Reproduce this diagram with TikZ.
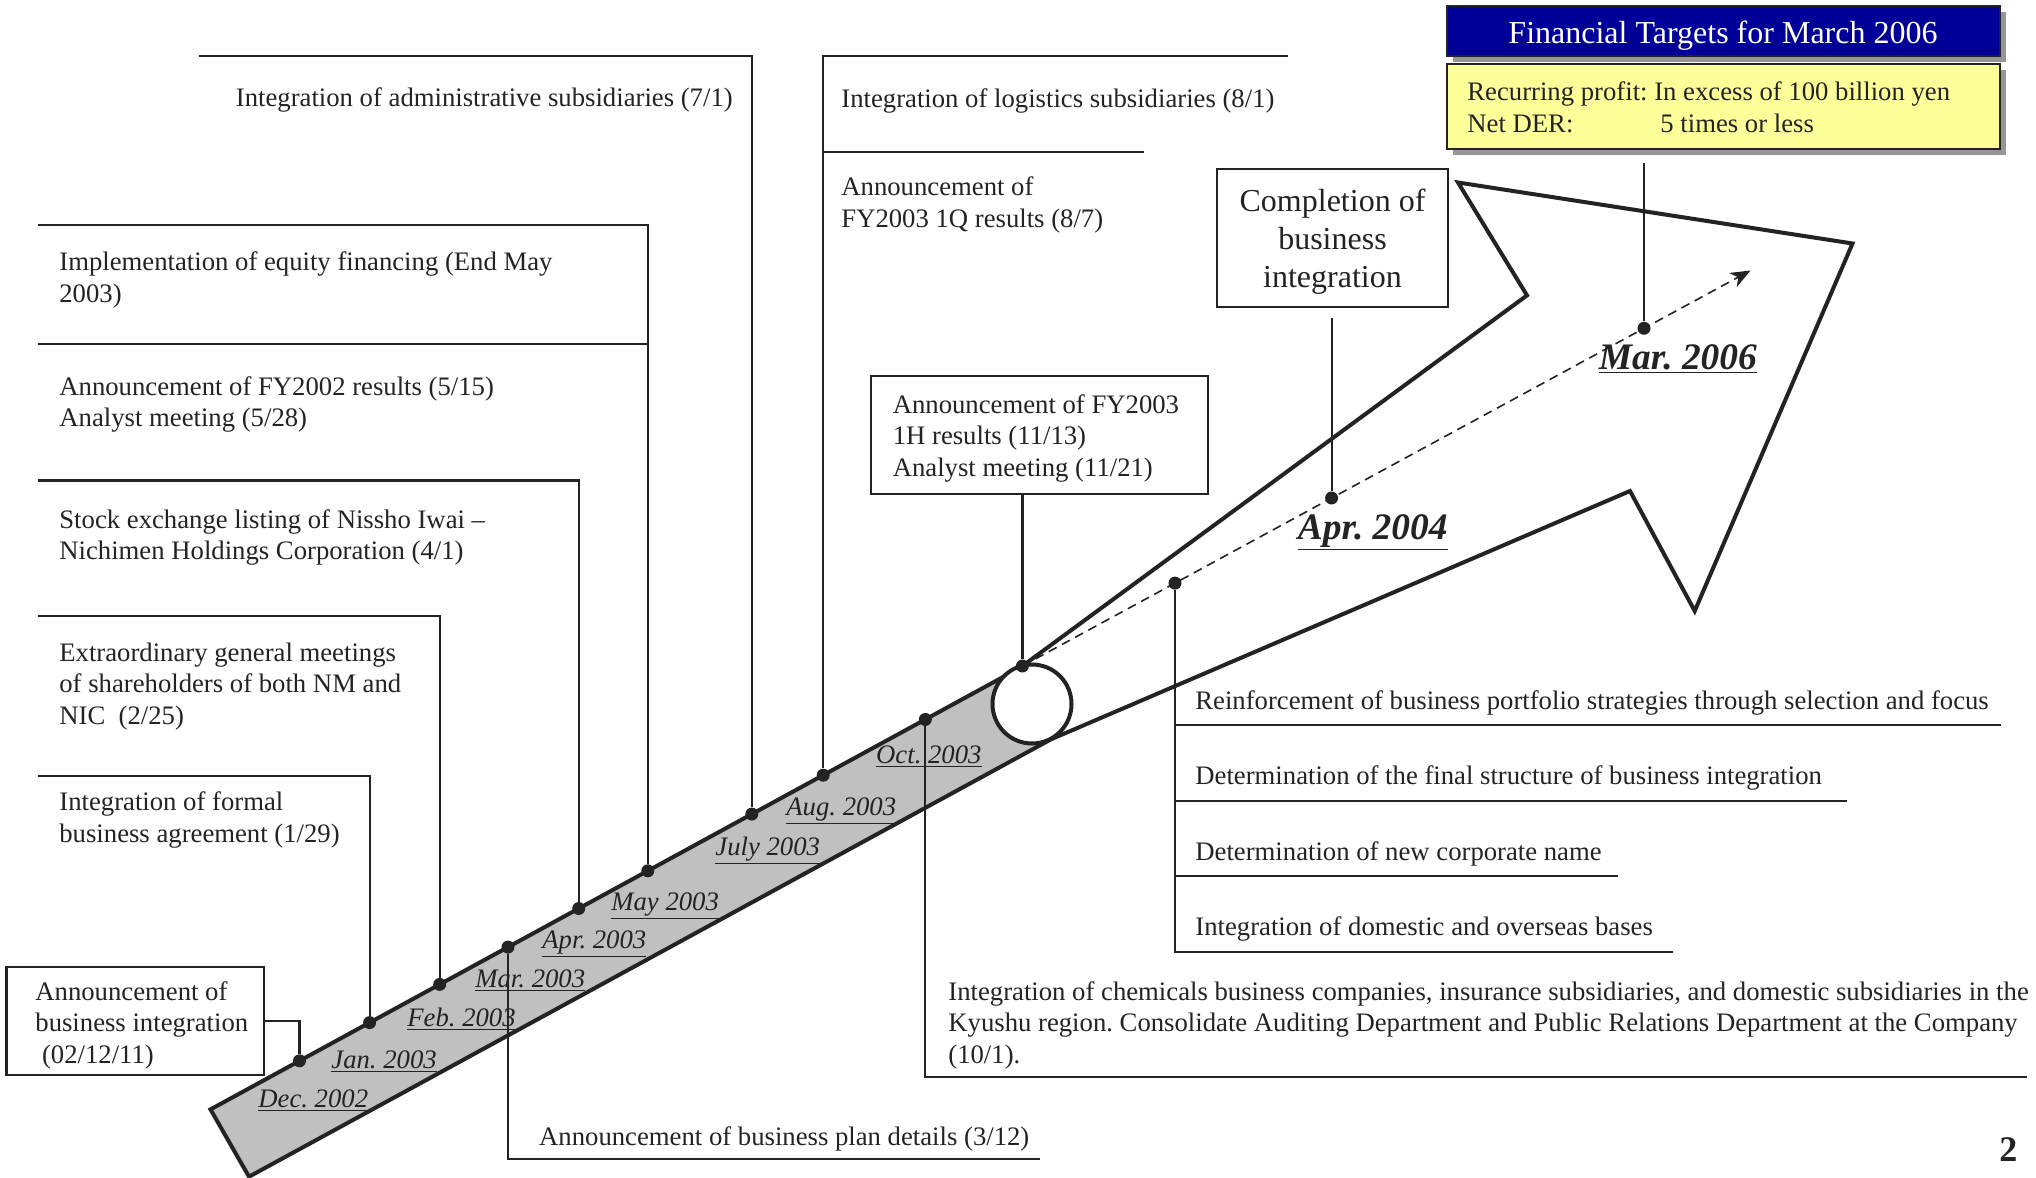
\documentclass[tikz,border=0pt]{standalone}
\usepackage{fontspec}
\setmainfont{Liberation Serif}
\usetikzlibrary{arrows.meta,calc,shadows}
\definecolor{ink}{RGB}{35,35,35}
\definecolor{bandgray}{RGB}{192,192,192}
\definecolor{navy}{RGB}{0,0,153}
\definecolor{lightyellow}{RGB}{255,255,153}
\definecolor{shadowgray}{RGB}{150,150,150}
\frenchspacing
\newcommand\LL[1]{\vtop{\baselineskip=15.8pt\lineskiplimit=-100pt\halign{##\hfil\cr#1\crcr}}}
\newcommand\CL[1]{\vtop{\baselineskip=18.9pt\lineskiplimit=-100pt\halign{\hfil##\hfil\cr#1\crcr}}}
\begin{document}
\begin{tikzpicture}[x=0.5pt,y=-0.5pt,
  txt/.style={anchor=base west, inner sep=0pt, text=ink, font=\fontsize{13.35pt}{15.8pt}\selectfont},
  datelbl/.style={anchor=base west, inner sep=0pt, text=ink, font=\fontsize{13.35pt}{15.8pt}\selectfont\itshape},
  bigdate/.style={anchor=base west, inner sep=0pt, text=ink, font=\fontsize{18.7pt}{22pt}\selectfont\bfseries\itshape},
  frame/.style={draw=ink, line width=1.1pt},
  edge/.style={draw=ink, line width=2pt, line join=miter},
  dotst/.style={circle, fill=ink, inner sep=0pt, minimum size=6.5pt},
  boxst/.style={draw=ink, line width=1.1pt, fill=white, inner sep=0pt},
  shadowbox/.style={draw=ink, line width=1.1pt, inner sep=0pt,
     drop shadow={shadow xshift=3pt, shadow yshift=-3pt, fill=shadowgray, opacity=1}}
]
\useasboundingbox (0,0) rectangle (2036,1178);

% ---------- band ----------
\coordinate (bTL) at (210.5,1109.4);
\coordinate (bBL) at (249,1176.7);
\coordinate (bTR) at (1013,671.6);
\coordinate (bBR) at (1051,739.3);
\fill[bandgray] (bTL) -- (bTR) -- (bBR) -- (bBL) -- cycle;
\draw[edge] (bTR) -- (bTL) -- (bBL) -- (bBR);
\draw[edge, fill=white] (1032,704) circle [radius=19.75pt];

% ---------- big arrow ----------
\coordinate (aN1) at (1527,295.4);
\coordinate (aT1) at (1458,182.5);
\coordinate (aTip) at (1852.5,243.5);
\coordinate (aT2) at (1694.7,611);
\coordinate (aN2) at (1630,491);

% ---------- dots ----------
\node[dotst] (dDec) at (299.5,1060.8) {};
\node[dotst] (dJan) at (369.6,1022.6) {};
\node[dotst] (dFeb) at (439.7,984.4) {};
\node[dotst] (dMar) at (508,947.1) {};
\node[dotst] (dApr) at (578.7,908.5) {};
\node[dotst] (dMay) at (647.8,870.8) {};
\node[dotst] (dJul) at (751.8,814.1) {};
\node[dotst] (dAug) at (823.2,775.2) {};
\node[dotst] (dOct) at (925.3,719.5) {};
\node[dotst] (dTop) at (1022.4,666) {};
\node[dotst] (dSel) at (1175,583.1) {};
\node[dotst] (dApr04) at (1331.6,498) {};
\node[dotst] (dMar06) at (1644,328.3) {};
\coordinate (dashEnd) at (1750.5,270.5);

\draw[edge] (dTop.center) -- (aN1) -- (aT1) -- (aTip) -- (aT2) -- (aN2) -- (bBR);
\draw[ink, line width=0.8pt, dash pattern=on 4.5pt off 3pt, -{Stealth[length=10pt,width=8pt,inset=3pt]}] (dTop.center) -- (dashEnd);

% ---------- boxes ----------
\node[boxst, minimum width=128.55pt, minimum height=54pt] (decbox) at (135.05,1021) {};
\node[boxst, minimum width=168.5pt, minimum height=58.95pt] (novbox) at (1039.5,435.25) {};
\node[boxst, minimum width=115.5pt, minimum height=68.85pt] (compbox) at (1332.5,238.15) {};
\node[shadowbox, fill=navy, minimum width=276.45pt, minimum height=24.85pt] (titlebox) at (1723.15,30.85) {};
\node[shadowbox, fill=lightyellow, minimum width=276.45pt, minimum height=42.5pt] (ybox) at (1723.15,106.5) {};

% ---------- frame coordinates ----------
\coordinate (fJul) at (199,56);
\coordinate (fAugA) at (1287.5,55.8);
\coordinate (fAugB) at (1143.8,151.8);
\coordinate (fMayA) at (38,224.6);
\coordinate (fMayB) at (38,343.75);
\coordinate (fApr) at (38,480.4);
\coordinate (fFeb) at (38,616);
\coordinate (fJan) at (38,775.9);
\coordinate (fMar) at (1040.3,1159);
\coordinate (fOct) at (2027,1076.6);
\coordinate (fR1) at (2001,725.3);
\coordinate (fR2) at (1847,800.9);
\coordinate (fR3) at (1617.8,875.7);
\coordinate (fR4) at (1672.6,952);

% ---------- connectors ----------
\draw[frame] (fJul) -| (dJul);
\draw[frame] (fAugA) -| (dAug);
\draw[frame] (fAugB) -- (fAugB -| dAug);
\draw[frame] (fMayA) -| (dMay);
\draw[frame] (fMayB) -- (fMayB -| dMay);
\draw[frame] (fApr) -| (dApr);
\draw[frame] (fFeb) -| (dFeb);
\draw[frame] (fJan) -| (dJan);
\draw[frame] (decbox.east) -| (dDec);
\draw[frame] (dMar) |- (fMar);
\draw[frame] (dOct) |- (fOct);
\draw[frame] (dTop) -- (dTop |- novbox.south);
\draw[frame] (dSel) |- (fR4);
\draw[frame] (dSel |- fR1) -- (fR1);
\draw[frame] (dSel |- fR2) -- (fR2);
\draw[frame] (dSel |- fR3) -- (fR3);
\draw[frame] (dApr04) -- ($(dApr04 |- compbox.south)+(0,10)$);
\draw[frame] (dMar06) -- ($(dMar06 |- ybox.south)+(0,13)$);

% ---------- texts ----------
\node[txt] (t71) at (235.5,106.7) {Integration of administrative subsidiaries (7/1)};
\node[txt] (t81) at (841,107) {Integration of logistics subsidiaries (8/1)};
\node[txt] (t87) at (841,195.5) {\LL{Announcement of\cr FY2003 1Q results (8/7)}};
\node[txt] (tEq) at (59,270.5) {\LL{Implementation of equity financing (End May\cr 2003)}};
\node[txt] (tFY) at (59,395) {\LL{Announcement of FY2002 results (5/15)\cr Analyst meeting (5/28)}};
\node[txt] (tList) at (59,528) {\LL{Stock exchange listing of Nissho Iwai –\cr Nichimen Holdings Corporation (4/1)}};
\node[txt] (tEGM) at (59,661) {\LL{Extraordinary general meetings\cr of shareholders of both NM and\cr NIC\ \ (2/25)}};
\node[txt] (tForm) at (59,810.7) {\LL{Integration of formal\cr business agreement (1/29)}};
\node[txt] (tDec) at (35,1000) {\LL{Announcement of\cr business integration\cr \ (02/12/11)}};
\node[txt] (tPlan) at (538.8,1145) {Announcement of business plan details (3/12)};
\node[txt] (tNov) at (892.4,413) {\LL{Announcement of FY2003\cr 1H results (11/13)\cr Analyst meeting (11/21)}};
\node[txt] (tOct) at (948,1000) {\LL{Integration of chemicals business companies, insurance subsidiaries, and domestic subsidiaries in the\cr Kyushu region. Consolidate Auditing Department and Public Relations Department at the Company\cr (10/1).}};
\node[txt] (tR1) at (1195,709) {Reinforcement of business portfolio strategies through selection and focus};
\node[txt] (tR2) at (1195,784.3) {Determination of the final structure of business integration};
\node[txt] (tR3) at (1195,860) {Determination of new corporate name};
\node[txt] (tR4) at (1195,935.4) {Integration of domestic and overseas bases};
\node[anchor=base, inner sep=0pt, text=ink, font=\fontsize{16pt}{19pt}\selectfont] (tComp) at (1332.5,211.5) {\CL{Completion of\cr business\cr integration}};
\node[anchor=base, inner sep=0pt, text=white, font=\fontsize{16pt}{19pt}\selectfont] (tTitle) at (1723,43.3) {Financial Targets for March 2006};
\node[txt] (tY) at (1467,100.5) {\LL{Recurring profit: In excess of 100 billion yen\cr \makebox[96.5pt][l]{Net DER:}5 times or less}};

% ---------- date labels ----------
\node[datelbl] (lDec) at (258,1107) {\underline{Dec. 2002}};
\node[datelbl] (lJan) at (331,1068.3) {\underline{Jan. 2003}};
\node[datelbl] (lFeb) at (407,1026.7) {\underline{Feb. 2003}};
\node[datelbl] (lMar) at (475,987) {\underline{Mar. 2003}};
\node[datelbl] (lApr) at (542,948) {\underline{Apr. 2003}};
\node[datelbl] (lMay) at (611,910) {\underline{May 2003}};
\node[datelbl] (lJul) at (715,855) {\underline{July 2003}};
\node[datelbl] (lAug) at (786,815) {\underline{Aug. 2003}};
\node[datelbl] (lOct) at (875.8,763.3) {\underline{Oct. 2003}};
\node[bigdate] (lApr04) at (1297.5,539) {\underline{Apr. 2004}};
\node[bigdate] (lMar06) at (1598.5,369) {\underline{Mar. 2006}};

\node[anchor=base west, inner sep=0pt, text=ink, font=\fontsize{18pt}{20pt}\selectfont\bfseries] (pg) at (1999,1161) {2};
\end{tikzpicture}
\end{document}
